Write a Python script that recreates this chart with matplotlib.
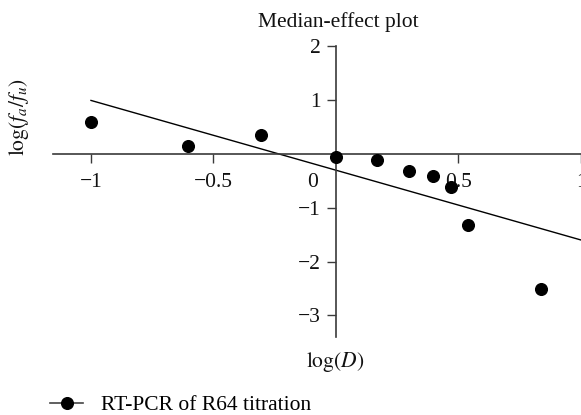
import numpy as np
import matplotlib
matplotlib.use("Agg")
import matplotlib.pyplot as plt
from matplotlib.lines import Line2D

# data
log_d = [-1.0, -0.606, -0.308, 0.0, 0.169, 0.30, 0.394, 0.471, 0.538, 0.837]
log_fa_fu = [0.595, 0.149, 0.353, -0.056, -0.11, -0.316, -0.41, -0.613, -1.32, -2.50]
fit_x = [-1.0, 1.0]
fit_y = [0.99, -1.60]
xticks = [-1, -0.5, 0.5, 1]
xtick_labels = ["\u22121", "\u22120.5", "0.5", "1"]
yticks = [-3, -2, -1, 1, 2]
ytick_labels = ["\u22123", "\u22122", "\u22121", "1", "2"]

FONT = "Liberation Serif"
FS = 15.5
AX_CLR = "#3a3a3a"

plt.rcParams["font.family"] = [FONT, "DejaVu Serif"]
plt.rcParams["mathtext.fontset"] = "stix"

W, H = 581, 415
fig = plt.figure(figsize=(W / 100, H / 100), dpi=100)
fig.patch.set_facecolor("white")
ax = fig.add_axes([53 / W, 1 - 337 / H, 1 - 53 / W, (337 - 46) / H])

ax.plot(fit_x, fit_y, color="black", linewidth=1.0, zorder=2)
ax.plot(log_d, log_fa_fu, linestyle="none", marker="o", markersize=8.4,
        color="black", zorder=3, clip_on=False)

ax.set_xlim(-1.155, 1.0)
ax.set_ylim(-3.4, 2.0)

for side in ("top", "right"):
    ax.spines[side].set_visible(False)
ax.spines["left"].set_position(("data", 0))
ax.spines["bottom"].set_position(("data", 0))
for side in ("left", "bottom"):
    ax.spines[side].set_color(AX_CLR)
    ax.spines[side].set_linewidth(1.2)

ax.set_xticks(xticks)
ax.set_xticklabels(xtick_labels)
ax.set_yticks(yticks)
ax.set_yticklabels(ytick_labels)
ax.tick_params(axis="both", direction="out", length=6.5, width=1.0,
               color=AX_CLR, labelsize=FS, labelcolor="#111111")
ax.tick_params(axis="x", pad=7.5)
ax.tick_params(axis="y", pad=4.5)

# origin label sits below-left of the crossing
ax.annotate("0", xy=(0, 0), xytext=(-23, -29), textcoords="offset pixels",
            ha="center", va="center", fontsize=FS, color="#111111")

fig.text(338 / W, 1 - 22 / H, "Median-effect plot", ha="center", va="center",
         fontsize=FS, color="#111111")
fig.text(335 / W, 1 - 362 / H, r"$\log(D)$", ha="center", va="center",
         fontsize=FS, color="#111111")
fig.text(19 / W, 1 - 117 / H, r"$\log(f_a/f_u)$", ha="center", va="center",
         rotation=90, fontsize=FS, color="#111111")

handle = Line2D([], [], color="#444444", linewidth=1.2, marker="o",
                markersize=8.4, markerfacecolor="black", markeredgecolor="black")
fig.legend(handles=[handle], labels=["RT-PCR of R64 titration"],
           loc="center left", bbox_to_anchor=(50 / W, 1 - 405 / H),
           frameon=False, fontsize=FS, handlelength=1.55, handletextpad=0.8,
           borderpad=0, borderaxespad=0)

fig.savefig("out.png", dpi=100, facecolor="white")
